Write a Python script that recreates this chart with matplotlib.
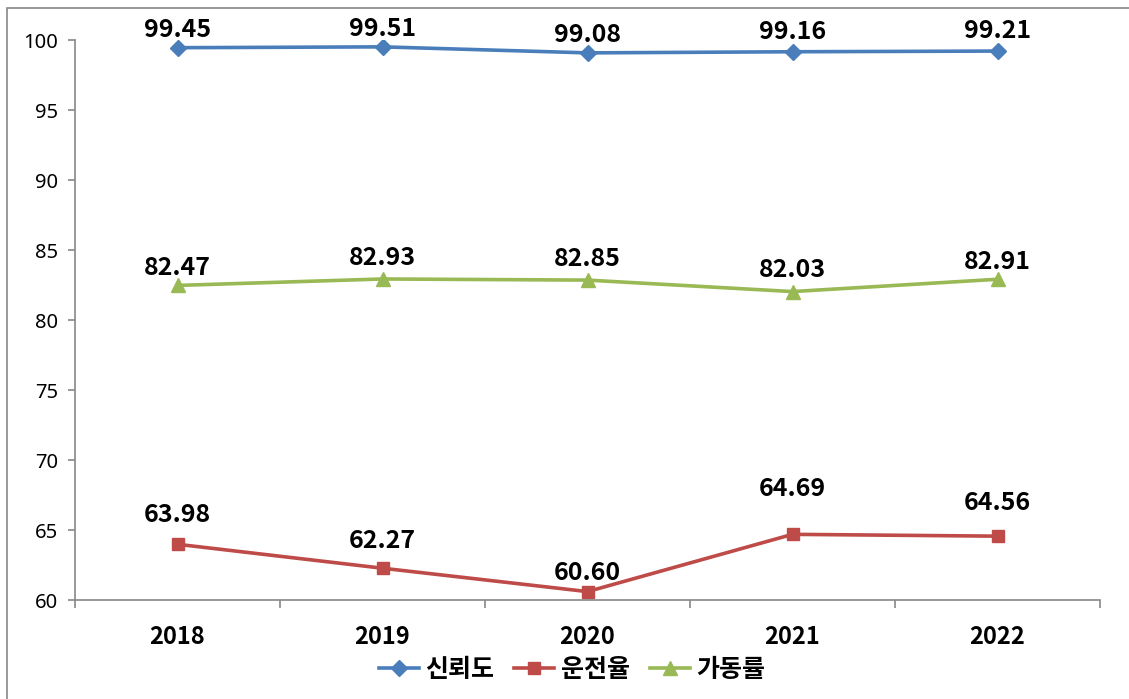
import numpy as np
import matplotlib.pyplot as plt
from matplotlib.patches import Rectangle

# data
years = ["2018", "2019", "2020", "2021", "2022"]
reliability = [99.45, 99.51, 99.08, 99.16, 99.21]   # 신뢰도
operation = [63.98, 62.27, 60.60, 64.69, 64.56]     # 운전율
availability = [82.47, 82.93, 82.85, 82.03, 82.91]  # 가동률
series_names = ["신뢰도", "운전율", "가동률"]

NUM_FONT = ["Noto Sans", "DejaVu Sans"]
KR_FONT = ["Noto Sans CJK KR", "DejaVu Sans"]

fig = plt.figure(figsize=(11.29, 6.99), dpi=100)
ax = fig.add_axes([75 / 1129, 99 / 699, 1025 / 1129, 560 / 699])

x = np.arange(len(years))
# label placement above each point (pixels, label centre to point)
label_gaps = [
    [20, 20, 20, 22, 23],
    [32, 30, 21, 48, 36],
    [20, 23, 24, 24, 20],
]
styles = [
    (reliability, "#4A7EBB", "D", 8.5),
    (operation, "#BE4B48", "s", 8.5),
    (availability, "#98B954", "^", 9.5),
]
for (vals, col, mk, ms), name, gaps in zip(styles, series_names, label_gaps):
    ax.plot(x, vals, color=col, lw=2.6, marker=mk, ms=ms, label=name,
            markeredgecolor=col, markerfacecolor=col)
    for xi, v, g in zip(x, vals, gaps):
        ax.annotate(f"{v:.2f}", (xi, v), xytext=(0, g * 0.72), textcoords="offset points",
                    ha="center", va="center_baseline", fontsize=18, fontweight="bold",
                    family=KR_FONT, color="black")

ax.set_xlim(-0.5, len(years) - 0.5)
ax.set_ylim(60, 100)
ax.set_yticks(np.arange(60, 101, 5))
ax.set_yticklabels([str(v) for v in range(60, 101, 5)], family=NUM_FONT, fontsize=14.5)
ax.set_xticks(x)
ax.set_xticklabels(years, family=KR_FONT, fontsize=17, fontweight="bold")
ax.set_xticks(np.arange(-0.5, len(years), 1), minor=True)
ax.tick_params(axis="x", which="major", length=0, pad=18)
ax.tick_params(axis="x", which="minor", length=6, color="#888888", width=1.2)
ax.tick_params(axis="y", length=5, color="#888888", width=1.2, pad=7)

for s in ["top", "right"]:
    ax.spines[s].set_visible(False)
for s in ["left", "bottom"]:
    ax.spines[s].set_color("#888888")
    ax.spines[s].set_linewidth(1.2)

leg = fig.legend(loc="center", bbox_to_anchor=(572 / 1129, 1 - 670 / 699), ncol=3,
                 frameon=False, handlelength=1.6, columnspacing=0.8, handletextpad=0.25,
                 prop={"family": KR_FONT, "size": 18, "weight": "bold"})

# outer chart border
fig.add_artist(Rectangle((7 / 1129, -0.1), 1.2, 1.1 - 8 / 699, transform=fig.transFigure,
                         fill=False, edgecolor="#888888", lw=1.2, clip_on=False))

fig.savefig("out.png", dpi=100)
